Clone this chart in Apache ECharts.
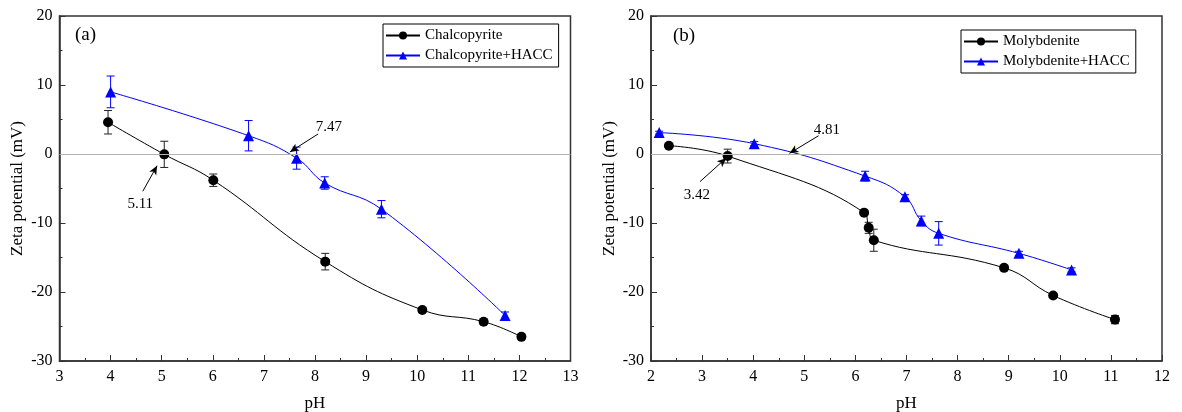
<!DOCTYPE html>
<html>
<head>
<meta charset="utf-8">
<script src="https://cdn.jsdelivr.net/npm/echarts@6/dist/echarts.min.js"></script>
<style>
html,body{margin:0;padding:0;background:#fff;}
#chart{width:1182px;height:412px;}
</style>
</head>
<body>
<div id="chart"></div>
<script>
// ---- Data ----
// Panel (a)
const chalcoPH   = [3.95, 5.05, 6.01, 8.20, 10.10, 11.30, 12.04];
const chalcoZeta = [4.6, -0.05, -3.8, -15.6, -22.6, -24.3, -26.5];
const chalcoErr  = [1.7, 1.9, 0.9, 1.2, 0.3, 0.4, 0.2];
const chalcoHaccPH   = [4.00, 6.70, 7.64, 8.19, 9.30, 11.72];
const chalcoHaccZeta = [9.0, 2.65, -0.6, -4.2, -8.0, -23.4];
const chalcoHaccErr  = [2.3, 2.2, 1.6, 0.9, 1.25, 0.5];
// Panel (b)
const molyPH   = [2.35, 3.50, 6.17, 6.26, 6.36, 8.91, 9.87, 11.08];
const molyZeta = [1.2, -0.3, -8.5, -10.7, -12.5, -16.5, -20.5, -24.0];
const molyErr  = [0.2, 1.0, 0.3, 0.8, 1.6, 0.2, 0.2, 0.6];
const molyHaccPH   = [2.16, 4.02, 6.19, 6.97, 7.29, 7.63, 9.20, 10.23];
const molyHaccZeta = [3.1, 1.5, -3.2, -6.2, -9.7, -11.5, -14.4, -16.8];
const molyHaccErr  = [0.2, 0.3, 0.7, 0.3, 0.7, 1.7, 0.3, 0.3];
// Axis settings / labels
const xTicksA = {min: 3, max: 13, interval: 1};
const xTicksB = {min: 2, max: 12, interval: 1};
const yTicks  = {min: -30, max: 20, interval: 10};
const xTitle = 'pH';
const yTitle = 'Zeta potential (mV)';
const panelLabels = ['(a)', '(b)'];
const legendNames = [['Chalcopyrite', 'Chalcopyrite+HACC'], ['Molybdenite', 'Molybdenite+HACC']];
// Isoelectric point annotations: [text, tipX, tipY, startX, startY, textX, textY]
const iepA = [['5.11', 4.91, -1.7, 4.63, -5.4, 4.58, -7.2], ['7.47', 7.51, 0.3, 8.06, 2.9, 8.27, 3.9]];
const iepB = [['3.42', 3.47, -0.6, 2.96, -4.0, 2.90, -5.9], ['4.81', 4.71, 0.1, 5.28, 2.65, 5.44, 3.4]];

// ---- Build ----
const FONT = 'Liberation Serif';
const BLACK = '#000000';
const BLUE = '#0000ff';
const zip = (xs, ys) => xs.map((x, i) => [x, ys[i]]);
const zip3 = (xs, ys, es) => xs.map((x, i) => [x, ys[i], es[i]]);

function errSeries(idx, xs, ys, es, color) {
  return {
    type: 'custom', xAxisIndex: idx, yAxisIndex: idx, silent: true, z: 3,
    data: zip3(xs, ys, es),
    renderItem: function (params, api) {
      const x = api.value(0), y = api.value(1), e = api.value(2);
      const top = api.coord([x, y + e]);
      const bot = api.coord([x, y - e]);
      const cap = 4;
      const st = {stroke: color, lineWidth: 1};
      return {type: 'group', children: [
        {type: 'line', shape: {x1: top[0], y1: top[1], x2: bot[0], y2: bot[1]}, style: st},
        {type: 'line', shape: {x1: top[0] - cap, y1: top[1], x2: top[0] + cap, y2: top[1]}, style: st},
        {type: 'line', shape: {x1: bot[0] - cap, y1: bot[1], x2: bot[0] + cap, y2: bot[1]}, style: st}
      ]};
    }
  };
}

function lineSeries(idx, name, xs, ys, color, symbol, size) {
  return {
    type: 'line', name: name, xAxisIndex: idx, yAxisIndex: idx,
    data: zip(xs, ys), smooth: 0.45,
    symbol: symbol, symbolSize: size, z: 4,
    lineStyle: {color: color, width: 1},
    itemStyle: {color: color},
    emphasis: {disabled: true}
  };
}

function annotSeries(idx, ann) {
  return {
    type: 'line', xAxisIndex: idx, yAxisIndex: idx, data: [], silent: true, z: 5,
    markLine: {
      silent: true, animation: false,
      lineStyle: {color: '#000', width: 1, type: 'solid'},
      symbol: ['none', 'arrow'], symbolSize: [6, 9],
      label: {show: false},
      data: ann.map(a => [{coord: [a[3], a[4]]}, {coord: [a[1], a[2]]}])
    },
    markPoint: {
      silent: true, animation: false, symbol: 'circle', symbolSize: 1,
      itemStyle: {color: 'rgba(0,0,0,0)'},
      label: {show: true, position: 'inside', color: '#000', fontFamily: FONT, fontSize: 15,
              formatter: p => p.name},
      data: ann.map(a => ({name: a[0], coord: [a[5], a[6]]}))
    }
  };
}

function zeroLine(idx) {
  return {
    type: 'line', xAxisIndex: idx, yAxisIndex: idx, data: [], silent: true, z: 1,
    markLine: {
      silent: true, animation: false, symbol: ['none', 'none'],
      lineStyle: {color: '#b4b4b4', width: 1, type: 'solid'},
      label: {show: false},
      data: [{yAxis: 0}]
    }
  };
}

function xAxis(idx, t) {
  return {
    type: 'value', gridIndex: idx, min: t.min, max: t.max, interval: t.interval,
    name: xTitle, nameLocation: 'middle', nameGap: 34,
    nameTextStyle: {fontFamily: FONT, fontSize: 17, color: '#000'},
    axisLine: {onZero: false, lineStyle: {color: '#333', width: 1.5}},
    axisTick: {inside: true, length: 6, lineStyle: {color: '#333'}},
    minorTick: {show: true, splitNumber: 2, length: 3, lineStyle: {color: '#333'}},
    axisLabel: {fontFamily: FONT, fontSize: 16, color: '#000', margin: 8},
    splitLine: {show: false}
  };
}
function yAxis(idx) {
  return {
    type: 'value', gridIndex: idx, min: yTicks.min, max: yTicks.max, interval: yTicks.interval,
    name: yTitle, nameLocation: 'middle', nameGap: 33,
    nameTextStyle: {fontFamily: FONT, fontSize: 17, color: '#000'},
    axisLine: {onZero: false, lineStyle: {color: '#333', width: 1.5}},
    axisTick: {inside: true, length: 6, lineStyle: {color: '#333'}},
    minorTick: {show: true, splitNumber: 2, length: 3, lineStyle: {color: '#333'}},
    axisLabel: {fontFamily: FONT, fontSize: 16, color: '#000', margin: 7},
    splitLine: {show: false}
  };
}

function legend(names, left, top) {
  return {
    data: names, left: left, top: top, orient: 'vertical',
    borderColor: '#000', borderWidth: 1, padding: [4, 6, 4, 2], itemGap: 5,
    itemWidth: 34, itemHeight: 10, selectedMode: false,
    textStyle: {fontFamily: FONT, fontSize: 15, color: '#000'}
  };
}

const option = {
  animation: false,
  backgroundColor: '#fff',
  title: [
    {text: panelLabels[0], left: 75, top: 26, textStyle: {fontFamily: FONT, fontSize: 19, fontWeight: 'normal', color: '#000'}, padding: 0},
    {text: panelLabels[1], left: 673, top: 27, textStyle: {fontFamily: FONT, fontSize: 19, fontWeight: 'normal', color: '#000'}, padding: 0}
  ],
  legend: [legend(legendNames[0], 383, 24), legend(legendNames[1], 961, 30)],
  grid: [
    {left: 59.5, right: 611.5, top: 16, bottom: 51, outerBoundsMode: 'none', containLabel: false, show: true, borderColor: '#333', borderWidth: 1.5, backgroundColor: 'transparent'},
    {left: 651, right: 20, top: 16, bottom: 51, outerBoundsMode: 'none', containLabel: false, show: true, borderColor: '#333', borderWidth: 1.5, backgroundColor: 'transparent'}
  ],
  xAxis: [xAxis(0, xTicksA), xAxis(1, xTicksB)],
  yAxis: [yAxis(0), yAxis(1)],
  series: [
    zeroLine(0), zeroLine(1),
    errSeries(0, chalcoPH, chalcoZeta, chalcoErr, '#222'),
    errSeries(0, chalcoHaccPH, chalcoHaccZeta, chalcoHaccErr, BLUE),
    errSeries(1, molyPH, molyZeta, molyErr, '#222'),
    errSeries(1, molyHaccPH, molyHaccZeta, molyHaccErr, BLUE),
    lineSeries(0, legendNames[0][0], chalcoPH, chalcoZeta, BLACK, 'circle', 10),
    lineSeries(0, legendNames[0][1], chalcoHaccPH, chalcoHaccZeta, BLUE, 'triangle', 11),
    lineSeries(1, legendNames[1][0], molyPH, molyZeta, BLACK, 'circle', 10),
    lineSeries(1, legendNames[1][1], molyHaccPH, molyHaccZeta, BLUE, 'triangle', 11),
    annotSeries(0, iepA), annotSeries(1, iepB)
  ]
};

const chart = echarts.init(document.getElementById('chart'), null, {renderer: 'canvas'});
chart.setOption(option);
</script>
</body>
</html>
